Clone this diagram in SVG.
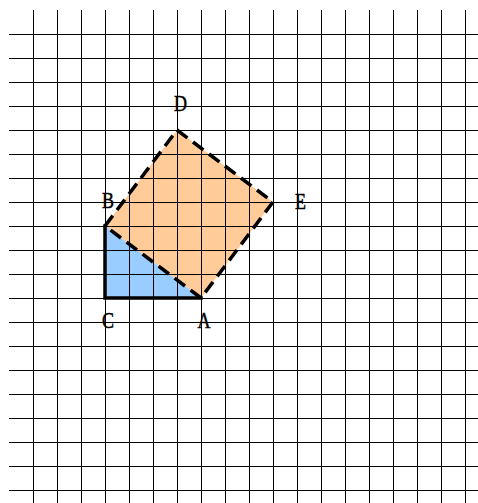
<svg xmlns="http://www.w3.org/2000/svg" width="478" height="503" viewBox="0 0 478 503">
<style>
.grid line{stroke:#000;stroke-width:1}
.lbl{font-family:"Liberation Serif",serif;font-size:18px;fill:#000;stroke:#000;stroke-width:0.4;text-anchor:middle}
.dash{fill:none;stroke:#000;stroke-width:3.5;stroke-dasharray:13,7;stroke-linejoin:miter}
.solid{fill:none;stroke:#000;stroke-width:3.5;stroke-linecap:square}
</style>
<rect width="478" height="503" fill="#fff"/>
<g id="fills">
<polygon points="105,226 201,298 273,202 177,130" fill="#FFCC99"/>
<polygon points="105,298 201,298 105,226" fill="#99CCFF"/>
</g>
<g class="grid" id="grid">
<line x1="33.5" y1="10" x2="33.5" y2="503"/><line x1="57.5" y1="10" x2="57.5" y2="503"/><line x1="81.5" y1="10" x2="81.5" y2="503"/><line x1="105.5" y1="10" x2="105.5" y2="503"/><line x1="129.5" y1="10" x2="129.5" y2="503"/><line x1="153.5" y1="10" x2="153.5" y2="503"/><line x1="177.5" y1="10" x2="177.5" y2="503"/><line x1="201.5" y1="10" x2="201.5" y2="503"/><line x1="225.5" y1="10" x2="225.5" y2="503"/><line x1="249.5" y1="10" x2="249.5" y2="503"/><line x1="273.5" y1="10" x2="273.5" y2="503"/><line x1="297.5" y1="10" x2="297.5" y2="503"/><line x1="321.5" y1="10" x2="321.5" y2="503"/><line x1="345.5" y1="10" x2="345.5" y2="503"/><line x1="369.5" y1="10" x2="369.5" y2="503"/><line x1="393.5" y1="10" x2="393.5" y2="503"/><line x1="417.5" y1="10" x2="417.5" y2="503"/><line x1="441.5" y1="10" x2="441.5" y2="503"/><line x1="465.5" y1="10" x2="465.5" y2="503"/>
<line x1="9" y1="34.5" x2="478" y2="34.5"/><line x1="9" y1="58.5" x2="478" y2="58.5"/><line x1="9" y1="82.5" x2="478" y2="82.5"/><line x1="9" y1="106.5" x2="478" y2="106.5"/><line x1="9" y1="130.5" x2="478" y2="130.5"/><line x1="9" y1="154.5" x2="478" y2="154.5"/><line x1="9" y1="178.5" x2="478" y2="178.5"/><line x1="9" y1="202.5" x2="478" y2="202.5"/><line x1="9" y1="226.5" x2="478" y2="226.5"/><line x1="9" y1="250.5" x2="478" y2="250.5"/><line x1="9" y1="274.5" x2="478" y2="274.5"/><line x1="9" y1="298.5" x2="478" y2="298.5"/><line x1="9" y1="322.5" x2="478" y2="322.5"/><line x1="9" y1="346.5" x2="478" y2="346.5"/><line x1="9" y1="370.5" x2="478" y2="370.5"/><line x1="9" y1="394.5" x2="478" y2="394.5"/><line x1="9" y1="418.5" x2="478" y2="418.5"/><line x1="9" y1="442.5" x2="478" y2="442.5"/><line x1="9" y1="466.5" x2="478" y2="466.5"/><line x1="9" y1="490.5" x2="478" y2="490.5"/>
</g>
<g id="connectors">
<polyline class="solid" points="105,226 105,298 201,298"/>
<path class="dash" d="M105,226 L177,130 M177,130 L273,202 M273,202 L201,298 M201,298 L105,226"/>
</g>
<g id="node-D"><text class="lbl" transform="translate(180.5,111) scale(1,1.3)">D</text></g>
<g id="node-B"><text class="lbl" transform="translate(108,208) scale(1,1.3)">B</text></g>
<g id="node-E"><text class="lbl" transform="translate(300.5,208.5) scale(1,1.3)">E</text></g>
<g id="node-C"><text class="lbl" transform="translate(108,328) scale(1,1.3)">C</text></g>
<g id="node-A"><text class="lbl" transform="translate(204,328) scale(1,1.3)">A</text></g>
</svg>
